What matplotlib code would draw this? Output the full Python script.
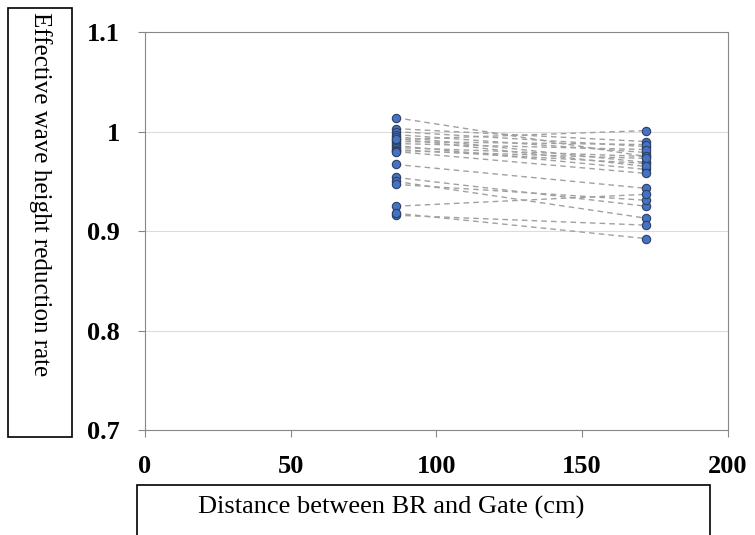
import numpy as np
import matplotlib.pyplot as plt
from matplotlib.patches import Rectangle

# distances (cm) and wave height reduction rates for each test case
dist = [86, 172]
rate_near = [1.014, 1.003, 1.000, 0.997, 0.995, 0.992, 0.990, 0.988, 0.986, 0.984,
             0.982, 0.981, 0.993, 0.980, 0.967, 0.954, 0.950, 0.947, 0.925, 0.916, 0.918]
rate_far = [0.975, 0.990, 0.985, 0.979, 0.969, 1.001, 0.987, 0.982, 0.962, 0.975,
            0.968, 0.973, 0.965, 0.958, 0.943, 0.925, 0.913, 0.931, 0.937, 0.906, 0.8925]

xticks = [0, 50, 100, 150, 200]
yticks = [0.7, 0.8, 0.9, 1.0, 1.1]
ytick_labels = ['0.7', '0.8', '0.9', '1', '1.1']

plt.rcParams['font.family'] = ['Liberation Serif', 'DejaVu Serif']

fig = plt.figure(figsize=(7.55, 5.35), dpi=100)
ax = fig.add_axes([0.192, 0.196, 0.772, 0.744])

for a, b in zip(rate_near, rate_far):
    ax.plot(dist, [a, b], '--', color='#a0a0a0', linewidth=1.0, dashes=(4, 3), zorder=2)
for a, b in zip(rate_near, rate_far):
    ax.plot(dist, [a, b], 'o', color='#4472c4', markeredgecolor='#2f3f5f',
            markeredgewidth=0.8, markersize=6, linestyle='none', zorder=3)

ax.set_xlim(0, 200)
ax.set_ylim(0.7, 1.1)
ax.set_xticks(xticks)
ax.set_yticks(yticks)
ax.set_yticklabels(ytick_labels)
ax.grid(axis='y', color='#dcdcdc', linewidth=0.8)
ax.set_axisbelow(True)
for s in ax.spines.values():
    s.set_color('#888888')
ax.tick_params(colors='#888888', labelcolor='black', length=5, direction='out', pad=13)
for lab in ax.get_xticklabels() + ax.get_yticklabels():
    lab.set_fontsize(19)
    lab.set_fontweight('bold')

# boxed axis titles
fig.patches.append(Rectangle((8 / 755, 1 - 437 / 535), 64 / 755, 429 / 535,
                             transform=fig.transFigure, fill=False, edgecolor='black', linewidth=1.2))
fig.text(40 / 755, 1 - 12 / 535, 'Effective wave height reduction rate', rotation=270,
         ha='center', va='top', fontsize=18)
fig.patches.append(Rectangle((137 / 755, -0.02), 573 / 755, 0.02 + 50 / 535,
                             transform=fig.transFigure, fill=False, edgecolor='black', linewidth=1.2))
fig.text(198 / 755, 1 - 507 / 535, 'Distance between BR and Gate (cm)',
         ha='left', va='center', fontsize=19)

fig.savefig('out.png', dpi=100)
